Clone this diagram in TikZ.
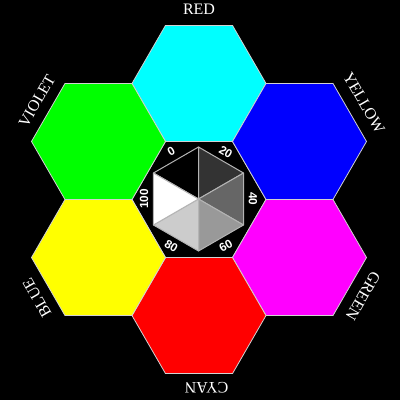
\documentclass[tikz,border=0pt]{standalone}
\usepackage{fontspec}
\setmainfont{Liberation Serif}
\newfontfamily\numfont{Liberation Sans}
\definecolor{hcyan}{RGB}{0,255,255}
\definecolor{hblue}{RGB}{0,0,255}
\definecolor{hmagenta}{RGB}{255,0,255}
\definecolor{hred}{RGB}{255,0,0}
\definecolor{hyellow}{RGB}{255,255,0}
\definecolor{hgreen}{RGB}{0,255,0}
\definecolor{hexline}{RGB}{210,210,210}
\definecolor{innerline}{RGB}{180,180,180}
\begin{document}
\begin{tikzpicture}[x=1pt,y=1pt,
  hexcell/.style={draw=hexline, line width=0.8pt, line join=miter},
  greyseg/.style={draw=innerline, line width=1pt, line join=round},
  numlab/.style={text=white, font=\numfont\bfseries\fontsize{11.8}{12}\selectfont, inner sep=0pt},
  namelab/.style={text=white, font=\fontsize{16}{16}\selectfont, inner sep=0pt}]
\useasboundingbox[fill=black] (0,0) rectangle (400,400);
\coordinate (C) at (199,200.5);
\def\s{67}
\def\d{116.05}
% central hexagon
\draw[hexcell, fill=black, shift={(C)}] (0:\s) -- (60:\s) -- (120:\s) -- (180:\s) -- (240:\s) -- (300:\s) -- cycle;
% six coloured hexagons
\foreach \name/\ang/\col in {cyanhex/90/hcyan, bluehex/30/hblue, magentahex/-30/hmagenta, redhex/-90/hred, yellowhex/210/hyellow, greenhex/150/hgreen} {
  \coordinate (\name) at ([shift={(\ang:\d)}]C);
  \draw[hexcell, fill=\col, shift={(\name)}] (0:\s) -- (60:\s) -- (120:\s) -- (180:\s) -- (240:\s) -- (300:\s) -- cycle;
}
% grey scale hexagon
\coordinate (G) at (198.5,201);
\foreach \a/\b/\g in {90/150/0, 30/90/20, -30/30/40, -90/-30/60, 210/270/80, 150/210/100} {
  \draw[greyseg, fill=white!\g!black, shift={(G)}] (0,0) -- (\a:52) -- (\b:52) -- cycle;
}
% grey scale labels
\node[numlab, rotate=30]  (n0)   at ([shift={(120:54.5)}]G) {0};
\node[numlab, rotate=-30] (n20)  at ([shift={(60:54.5)}]G) {20};
\node[numlab, rotate=-90] (n40)  at ([shift={(0:54.5)}]G) {40};
\node[numlab, rotate=30]  (n60)  at ([shift={(-60:54.5)}]G) {60};
\node[numlab, rotate=-30] (n80)  at ([shift={(-120:54.5)}]G) {80};
\node[numlab, rotate=90]  (n100) at ([shift={(180:54.5)}]G) {100};
% outer names
\node[namelab] (tred) at (199,390.5) {RED};
\node[namelab, rotate=-60] (tyellow) at (364,297) {YELLOW};
\node[namelab, rotate=-120] (tgreen) at (363,104) {GREEN};
\node[namelab, rotate=180] (tcyan) at (206.5,12) {CYAN};
\node[namelab, rotate=120] (tblue) at (37,102) {BLUE};
\node[namelab, rotate=60] (tviolet) at (37,299) {VIOLET};
\end{tikzpicture}
\end{document}
